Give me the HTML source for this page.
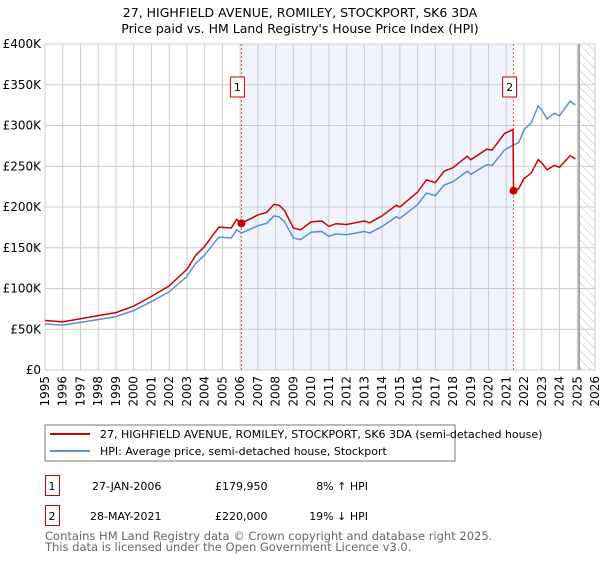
<!DOCTYPE html>
<html><head><meta charset="utf-8"><style>
body{margin:0;background:#fff;font-family:"DejaVu Sans","Liberation Sans",sans-serif;}
svg text{font-family:"DejaVu Sans","Liberation Sans",sans-serif;}
</style></head><body>
<svg id="chart" width="600" height="560" xmlns="http://www.w3.org/2000/svg">
<defs><pattern id="hatch" width="6" height="6" patternUnits="userSpaceOnUse" patternTransform="rotate(-45)"><line x1="0" y1="0" x2="0" y2="6" stroke="#bbb" stroke-width="1"/></pattern></defs>
<text x="300" y="17" text-anchor="middle" font-size="12.5">27, HIGHFIELD AVENUE, ROMILEY, STOCKPORT, SK6 3DA</text>
<text x="300" y="33" text-anchor="middle" font-size="12.5">Price paid vs. HM Land Registry's House Price Index (HPI)</text>
<g id="plot"></g>
<g>
<rect x="45" y="425" width="410" height="36" fill="#fff" stroke="#777"/>
<line x1="50" y1="434" x2="90" y2="434" stroke="#cc0000" stroke-width="2"/>
<text x="100" y="438" font-size="11">27, HIGHFIELD AVENUE, ROMILEY, STOCKPORT, SK6 3DA (semi-detached house)</text>
<line x1="50" y1="451" x2="90" y2="451" stroke="#5b8fd4" stroke-width="2"/>
<text x="100" y="455" font-size="11">HPI: Average price, semi-detached house, Stockport</text>
</g>
<g font-size="11">
<rect x="45.5" y="475.5" width="14" height="20" fill="#fff" stroke="#cc0000"/><text x="52" y="490" text-anchor="middle">1</text>
<text x="92" y="490">27-JAN-2006</text><text x="215" y="490">£179,950</text><text x="368" y="490" text-anchor="end">8% ↑ HPI</text>
<rect x="45.5" y="505.5" width="14" height="20" fill="#fff" stroke="#cc0000"/><text x="52" y="520" text-anchor="middle">2</text>
<text x="90" y="520">28-MAY-2021</text><text x="215" y="520">£220,000</text><text x="368" y="520" text-anchor="end">19% ↓ HPI</text>
</g>
<g font-size="11.5" fill="#666">
<text x="45" y="540">Contains HM Land Registry data © Crown copyright and database right 2025.</text>
<text x="45" y="551">This data is licensed under the Open Government Licence v3.0.</text>
</g>
</svg>
<script>
const hpiYears=[1995,1996,1997,1998,1999,2000,2001,2002,2003,2003.5,2004,2004.5,2004.8,2005.5,2005.8,2006.07,2007,2007.5,2007.9,2008.2,2008.5,2008.8,2009.0,2009.4,2010,2010.6,2011,2011.4,2012,2013,2013.3,2014,2014.8,2015,2016,2016.5,2017,2017.5,2018,2018.8,2019,2019.9,2020.2,2020.9,2021.4,2021.7,2022,2022.4,2022.8,2023,2023.3,2023.7,2024,2024.6,2024.9];
const hpiValues=[56.5,55,58.5,62,65.5,73,84,96,115,131,141,155,163,162,172,168,177,180,189,188,182,170,162,160,169,170,164,167,166,170,168,176,188,186,203,217,214,227,231,244,240,252,251,270,276,279,295,303,324,319,308,315,312,330,325];
const priceYears=[1995,1996,1997,1998,1999,2000,2001,2002,2003,2003.5,2004,2004.5,2004.8,2005.5,2005.8,2006.07,2007,2007.5,2007.9,2008.2,2008.5,2008.8,2009.0,2009.4,2010,2010.6,2011,2011.4,2012,2013,2013.3,2014,2014.8,2015,2016,2016.5,2017,2017.5,2018,2018.8,2019,2019.9,2020.2,2020.9,2021.38,2021.41,2021.7,2022,2022.4,2022.8,2023,2023.3,2023.7,2024,2024.6,2024.9];
const priceValues=[60.7,59.1,62.9,66.7,70.4,78.5,90.3,103.2,123.6,140.8,151.6,166.6,175.2,174.2,184.9,180,190.3,193.5,203.2,202.1,195.7,182.8,174.2,172,181.7,182.8,176.3,179.5,178.5,182.8,180.6,189.2,202.1,200,218.2,233.3,230,244,248.3,262.3,258,270.9,269.8,290.2,295,220,222.4,235,241.5,258.2,254.2,245.5,251,248.7,263,259];
const saleYears=[2006.07,2021.41];
const saleValues=[179.95,220];
const saleLabels=["1","2"];
const yTicks=[0,50,100,150,200,250,300,350,400];
const yTickLabels=["£0","£50K","£100K","£150K","£200K","£250K","£300K","£350K","£400K"];
const xTicks=[1995,1996,1997,1998,1999,2000,2001,2002,2003,2004,2005,2006,2007,2008,2009,2010,2011,2012,2013,2014,2015,2016,2017,2018,2019,2020,2021,2022,2023,2024,2025,2026];
const X0=45,X1=595,Y0=370,Y1=44,xMin=1995,xMax=2026,yMax=400,hatchStart=2025.1;
const sx=v=>X0+(v-xMin)/(xMax-xMin)*(X1-X0);
const sy=v=>Y0-v/yMax*(Y0-Y1);
const NS="http://www.w3.org/2000/svg";
const g=document.getElementById('plot');
function mk(t,a,p){const e=document.createElementNS(NS,t);for(const k in a)e.setAttribute(k,a[k]);(p||g).appendChild(e);return e;}
let e;
e=mk('rect',{x:sx(saleYears[0]),y:Y1,width:sx(saleYears[1])-sx(saleYears[0]),height:Y0-Y1,fill:'#eef3fc'});


e=mk('rect',{x:sx(hatchStart),y:Y1,width:X1-sx(hatchStart),height:Y0-Y1,fill:'url(#hatch)'});


yTicks.forEach((t,i)=>{
 e=mk('line',{x1:X0,x2:X1,y1:sy(t),y2:sy(t),stroke:'#ccc'});
 
 
 e=mk('text',{x:X0-4,y:sy(t)+4,'text-anchor':'end','font-size':'12'});e.textContent=yTickLabels[i];
 
 
});
xTicks.forEach(t=>{
 e=mk('line',{x1:sx(t),x2:sx(t),y1:Y1,y2:Y0,stroke:'#ccc'});
 
 
 e=mk('text',{x:0,y:0,'text-anchor':'end','font-size':'12',transform:`translate(${sx(t)+4},${Y0+6}) rotate(-90)`});e.textContent=t;
 
 
});
e=mk('line',{x1:sx(hatchStart),x2:sx(hatchStart),y1:Y1,y2:Y0,stroke:'#888','stroke-width':1.5});


e=mk('rect',{x:X0,y:Y1,width:X1-X0,height:Y0-Y1,fill:'none',stroke:'#ccc'});


saleYears.forEach((s,i)=>{
 e=mk('line',{x1:sx(s),x2:sx(s),y1:Y1,y2:Y0,stroke:'#e05555','stroke-dasharray':'2,2'});
 
 
});
e=mk('polyline',{points:hpiYears.map((y,i)=>sx(y)+','+sy(hpiValues[i])).join(' '),fill:'none',stroke:'#5b8fd4','stroke-width':1.5});


e=mk('polyline',{points:priceYears.map((y,i)=>sx(y)+','+sy(priceValues[i])).join(' '),fill:'none',stroke:'#cc0000','stroke-width':1.5});


saleYears.forEach((s,i)=>{
 e=mk('circle',{cx:sx(s),cy:sy(saleValues[i]),r:4,fill:'#cc0000'});
 
 
 e=mk('rect',{x:sx(s)-11,y:77,width:14,height:20,fill:'#fff',stroke:'#cc0000'});
 
 
 e=mk('text',{x:sx(s)-4,y:91,'text-anchor':'middle','font-size':'11'});e.textContent=saleLabels[i];
 
 
});
</script>
</body></html>
